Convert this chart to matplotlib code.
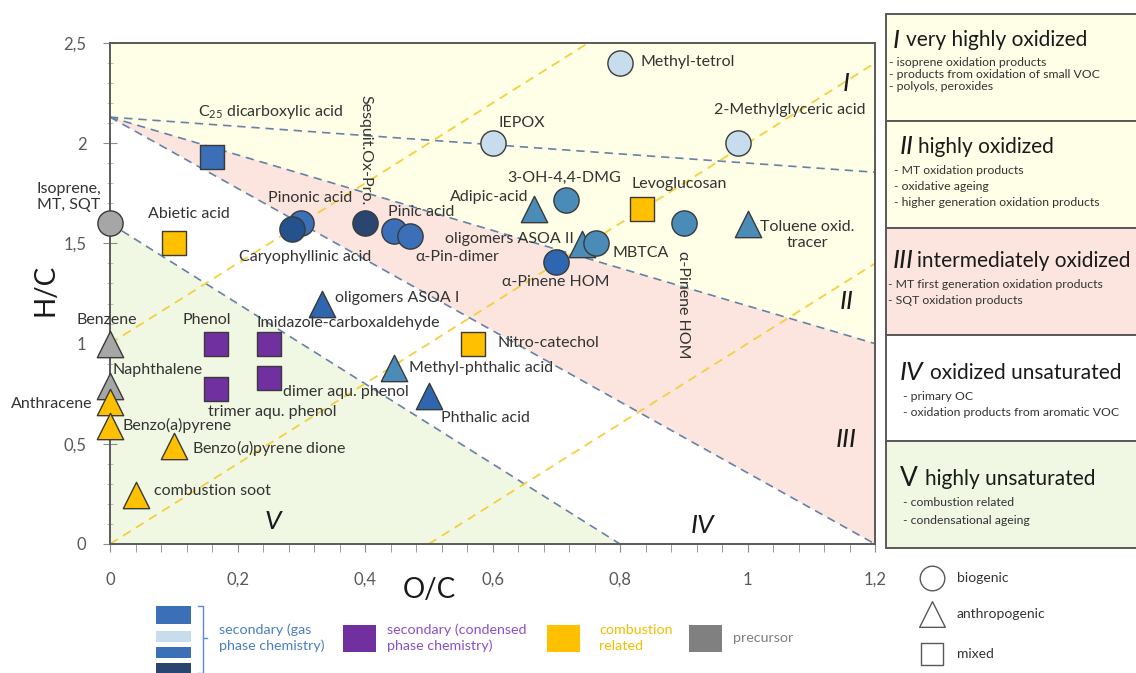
import matplotlib
matplotlib.use("Agg")
import matplotlib.pyplot as plt
from matplotlib.patches import Rectangle, Polygon
from matplotlib.ticker import FuncFormatter, MultipleLocator

plt.rcParams["font.family"] = ["Lato", "DejaVu Sans"]
plt.rcParams["mathtext.fontset"] = "custom"
plt.rcParams["mathtext.rm"] = "Lato"
plt.rcParams["mathtext.it"] = "Lato:italic"

# --- compounds in the van Krevelen space ---
NAMES = [
    "Isoprene,\nMT, SQT", "Abietic acid", "C$_{25}$ dicarboxylic acid", "Pinonic acid",
    "Caryophyllinic acid", "Sesquit.Ox-Pro.", "Pinic acid", "α-Pin-dimer",
    "IEPOX", "Methyl-tetrol", "2-Methylglyceric acid", "3-OH-4,4-DMG",
    "Adipic-acid", "Levoglucosan", "α-Pinene HOM", "Toluene oxid.\ntracer",
    "oligomers ASOA II", "MBTCA", "α-Pinene HOM", "oligomers ASOA I",
    "Phenol", "Imidazole-carboxaldehyde", "trimer aqu. phenol", "dimer aqu. phenol",
    "Methyl-phthalic acid", "Phthalic acid", "Nitro-catechol", "Benzene",
    "Naphthalene", "Anthracene", "Benzo(a)pyrene", "Benzo($\\it{a}$)pyrene dione",
    "combustion soot",
]
OC = [0.0, 0.10, 0.16, 0.30, 0.285, 0.40, 0.445, 0.47,
      0.60, 0.80, 0.985, 0.715, 0.665, 0.835, 0.90, 1.00,
      0.74, 0.762, 0.70, 0.333, 0.167, 0.25, 0.167, 0.25,
      0.445, 0.50, 0.57, 0.0, 0.0, 0.0, 0.0, 0.10, 0.04]
HC = [1.60, 1.50, 1.93, 1.60, 1.57, 1.60, 1.56, 1.535,
      2.00, 2.40, 2.00, 1.715, 1.67, 1.67, 1.60, 1.595,
      1.495, 1.50, 1.405, 1.20, 1.00, 1.00, 0.775, 0.83,
      0.88, 0.74, 1.00, 1.00, 0.79, 0.71, 0.59, 0.49, 0.245]
SOURCE = ["biogenic", "mixed", "mixed", "biogenic", "biogenic", "biogenic", "biogenic", "biogenic",
          "biogenic", "biogenic", "biogenic", "biogenic", "anthropogenic", "mixed", "biogenic",
          "anthropogenic", "anthropogenic", "biogenic", "biogenic", "anthropogenic",
          "mixed", "mixed", "mixed", "mixed", "anthropogenic", "anthropogenic", "mixed",
          "anthropogenic", "anthropogenic", "anthropogenic", "anthropogenic", "anthropogenic",
          "anthropogenic"]
GROUP = ["precursor", "combustion", "gas", "gas", "gas_dark", "gas_navy", "gas", "gas",
         "gas_light", "gas_light", "gas_light", "gas_steel", "gas_steel", "combustion", "gas_steel",
         "gas_steel", "gas_steel", "gas_steel", "gas_deep", "gas_deep",
         "condensed", "condensed", "condensed", "condensed", "gas_steel", "gas_deep", "combustion",
         "precursor", "precursor", "combustion", "combustion", "combustion", "combustion"]

# region borders (O/C, H/C)
BORDER_I_II = [(0.0, 2.13), (1.2, 1.855)]
BORDER_II_III = [(0.0, 2.13), (1.2, 1.0)]
BORDER_III_IV = [(0.0, 2.13), (1.2, 0.0)]
BORDER_IV_V = [(0.0, 1.6), (0.8, 0.0)]
YELLOW_LINES = [[(0.0, 1.0), (0.75, 2.5)], [(0.0, 0.0), (1.2, 2.4)], [(0.5, 0.0), (1.2, 1.4)]]

PANEL_NUMERALS = ["I", "II", "III", "IV", "V"]
PANEL_TITLES = ["very highly oxidized", "highly oxidized", "intermediately oxidized",
                "oxidized unsaturated", "highly unsaturated"]
PANEL_ITEMS = [
    ["- isoprene oxidation products", "- products from oxidation of small VOC", "- polyols, peroxides"],
    ["- MT oxidation products", "- oxidative ageing", "- higher generation oxidation products"],
    ["- MT first generation oxidation products", "- SQT oxidation products"],
    ["- primary OC", "- oxidation products from aromatic VOC"],
    ["- combustion related", "- condensational ageing"],
]
SOURCE_LABELS = ["biogenic", "anthropogenic", "mixed"]
GROUP_LABELS = ["secondary (gas\nphase chemistry)", "secondary (condensed\nphase chemistry)",
                "combustion\nrelated", "precursor"]

# --- styles ---
COLORS = {
    "gas": "#3B6FB8", "gas_light": "#C7DCEC", "gas_dark": "#23528C", "gas_navy": "#2B4571",
    "gas_steel": "#4A8BB8", "gas_deep": "#2E66B0", "condensed": "#7030A0",
    "combustion": "#FFC000", "precursor": "#A6A6A6",
}
MARKERS = {"biogenic": "o", "anthropogenic": "^", "mixed": "s"}
SIZES = {"o": 330, "^": 360, "s": 285}
YELLOW_BG, PINK_BG, GREEN_BG = "#FFFEE6", "#FCE5DE", "#F0F7E2"
TXT = "#333333"

# label offsets in pixels (dx, dy, ha, rotation)
LABEL_POS = [
    (-73, 26, "left", 0), (15, 29, "center", 0), (-14, 45, "left", 0), (9, 25, "center", 0),
    (13, -28, "center", 0), (0, 73, "center", -90), (-6, 19, "left", 0), (6, -21, "left", 0),
    (29, 20, "center", 0), (20, 1, "left", 0), (52, 33, "center", 0), (-2, 22, "center", 0),
    (-5, 12, "right", 0), (37, 25, "center", 0), (-1, -81, "center", -90), (60, -11, "center", 0),
    (-8, 5, "right", 0), (17, -10, "left", 0), (0, -20, "center", 0), (13, 6, "left", 0),
    (-10, 24, "center", 0), (-13, 21, "left", 0), (-8, -23, "left", 0), (14, -14, "left", 0),
    (15, 0, "left", 0), (12, -22, "left", 0), (24, 1, "left", 0), (-3, 24, "center", 0),
    (3, 16, "left", 0), (-18, -2, "right", 0), (12, 0, "left", 0), (18, -2, "left", 0),
    (18, 4, "left", 0),
]

fig = plt.figure(figsize=(11.36, 6.73), dpi=100)
ax = fig.add_axes([110 / 1136, 1 - 544 / 673, 765 / 1136, 501 / 673])
ax.set_xlim(0, 1.2)
ax.set_ylim(0, 2.5)
ax.set_facecolor(YELLOW_BG)

# shaded regions
ax.add_patch(Polygon([BORDER_II_III[0], BORDER_II_III[1], BORDER_III_IV[1]],
                     closed=True, fc=PINK_BG, ec="none", zorder=0.5))
ax.add_patch(Polygon([BORDER_III_IV[0], BORDER_III_IV[1], BORDER_IV_V[1], BORDER_IV_V[0]],
                     closed=True, fc="white", ec="none", zorder=0.5))
ax.add_patch(Polygon([BORDER_IV_V[0], BORDER_IV_V[1], (0.0, 0.0)],
                     closed=True, fc=GREEN_BG, ec="none", zorder=0.5))

for (x0, y0), (x1, y1) in [BORDER_I_II, BORDER_II_III, BORDER_III_IV, BORDER_IV_V]:
    ax.plot([x0, x1], [y0, y1], color="#6682A8", lw=1.2, dashes=(5, 3.5), zorder=1)
for (x0, y0), (x1, y1) in YELLOW_LINES:
    ax.plot([x0, x1], [y0, y1], color="#F4D03F", lw=1.3, dashes=(5, 3.5), zorder=1)

for i, name in enumerate(NAMES):
    m = MARKERS[SOURCE[i]]
    ax.scatter(OC[i], HC[i], marker=m, s=SIZES[m], c=COLORS[GROUP[i]],
               edgecolors="#3A3A3A", linewidths=1.0, zorder=3 + i * 0.01, clip_on=False)
    dx, dy, ha, rot = LABEL_POS[i]
    ax.annotate(name, (OC[i], HC[i]), xytext=(dx, dy), textcoords="offset pixels",
                ha=ha, va="center", rotation=rot, fontsize=11.5, color=TXT,
                multialignment="center" if "\n" in name and ha == "center" else "left",
                zorder=5)

# roman numerals of the regions
for label, x, y in [("I", 1.155, 2.3), ("II", 1.155, 1.21), ("III", 1.155, 0.52),
                    ("IV", 0.93, 0.09), ("V", 0.255, 0.11)]:
    ax.text(x, y, label, fontsize=19, style="italic", ha="center", va="center", color="#1A1A1A")

fmt = FuncFormatter(lambda v, _: f"{v:g}".replace(".", ","))
ax.xaxis.set_major_locator(MultipleLocator(0.2))
ax.xaxis.set_minor_locator(MultipleLocator(0.04))
ax.yaxis.set_major_locator(MultipleLocator(0.5))
ax.yaxis.set_minor_locator(MultipleLocator(0.1))
ax.xaxis.set_major_formatter(fmt)
ax.yaxis.set_major_formatter(fmt)
ax.tick_params(axis="x", which="both", direction="out", length=6, color="#8C8C8C",
               labelsize=12, labelcolor="#595959", pad=14)
ax.tick_params(axis="y", which="major", direction="inout", length=10, color="#8C8C8C",
               labelsize=12, labelcolor="#595959", pad=12)
ax.tick_params(axis="y", which="minor", direction="inout", length=5, color="#B0B0B0")
for sp in ax.spines.values():
    sp.set_color("#5A5A5A")
    sp.set_linewidth(1.4)

# right panel and legends, drawn in pixel coordinates
ov = fig.add_axes([0, 0, 1, 1])
ov.set_xlim(0, 1136)
ov.set_ylim(673, 0)
ov.axis("off")

ov.text(429, 590, "O/C", fontsize=20, ha="center", va="center", color="#1A1A1A")
ov.text(46, 290, "H/C", fontsize=20, ha="center", va="center", rotation=90, color="#1A1A1A")

edges = [14, 121, 228, 335, 441, 548]
box_bg = [YELLOW_BG, YELLOW_BG, PINK_BG, "white", GREEN_BG]
numeral_x = [893, 900, 893, 900, 900]
title_x = [906, 918, 917, 930, 925]
title_y = [40, 147, 261, 373, 479]
items_x = [889, 894, 888, 903, 903]
items_y = [[63, 75, 87], [171, 187, 203], [285, 301], [397, 413], [503, 520]]
for k in range(5):
    ov.add_patch(Rectangle((886, edges[k]), 260, edges[k + 1] - edges[k],
                           fc=box_bg[k], ec="#595959", lw=1.4))
    ov.text(numeral_x[k], title_y[k], PANEL_NUMERALS[k], fontsize=19,
            style="normal" if k == 4 else "italic", ha="left", va="center", color="#1A1A1A")
    ov.text(title_x[k], title_y[k], PANEL_TITLES[k], fontsize=15, ha="left", va="center",
            color="#1A1A1A")
    for txt, yy in zip(PANEL_ITEMS[k], items_y[k]):
        ov.text(items_x[k], yy, txt, fontsize=8.8, ha="left", va="center", color="#333333")

# source legend
for lab, yy in zip(SOURCE_LABELS, [578, 614, 654]):
    m = MARKERS[lab]
    ov.scatter(932, yy, marker=m, s=SIZES[m] * 0.95, facecolors="white",
               edgecolors="#595959", linewidths=1.0)
    ov.text(957, yy, lab, fontsize=10, ha="left", va="center", color="#333333")

# colour legend
for col, (y0, h) in zip(["gas", "gas_light", "gas", "gas_navy"],
                        [(606, 18), (631, 11), (647, 11), (663, 12)]):
    ov.add_patch(Rectangle((156, y0), 35, h, fc=COLORS[col], ec="none"))
ov.plot([198, 203, 203, 198], [606, 606, 673, 673], color="#5B8BD0", lw=1)
ov.plot([203, 207], [638, 638], color="#5B8BD0", lw=1)
ov.text(219, 638, GROUP_LABELS[0], fontsize=10.3, ha="left", va="center", color="#4A7EC4",
        linespacing=1.3)
ov.add_patch(Rectangle((343, 625), 33, 27, fc="#7030A0", ec="none"))
ov.text(387, 638, GROUP_LABELS[1], fontsize=10.3, ha="left", va="center", color="#8A4FCB",
        linespacing=1.3)
ov.add_patch(Rectangle((547, 625), 33, 27, fc="#FFC000", ec="none"))
ov.text(599, 638, GROUP_LABELS[2], fontsize=10.3, ha="left", va="center", color="#F2BE00",
        linespacing=1.3)
ov.add_patch(Rectangle((689, 625), 33, 27, fc="#808080", ec="none"))
ov.text(733, 638, GROUP_LABELS[3], fontsize=10.3, ha="left", va="center", color="#7F7F7F")

fig.savefig("out.png", dpi=100)
plt.close(fig)
